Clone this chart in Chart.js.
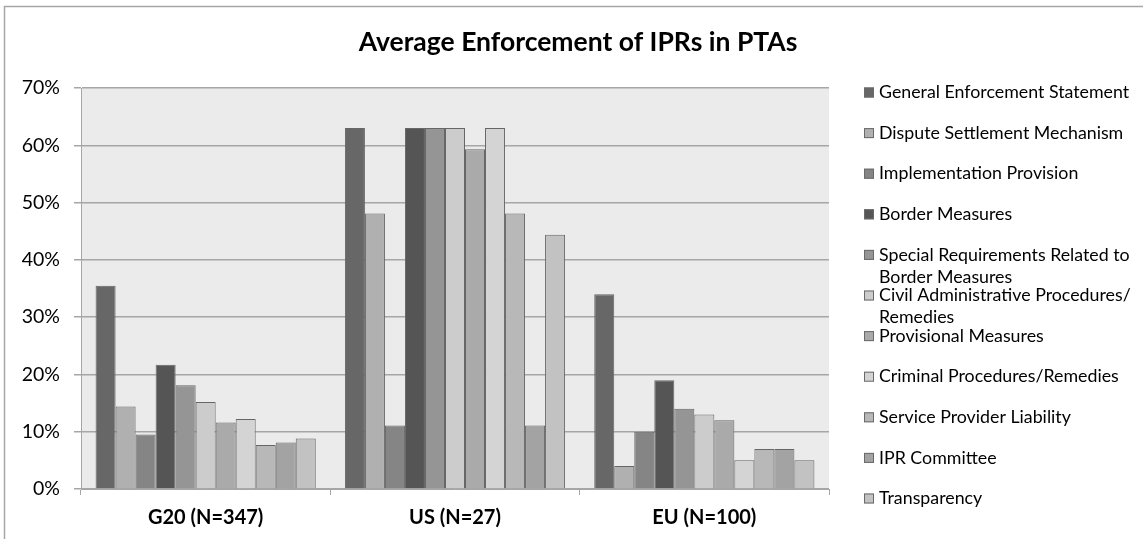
<!DOCTYPE html>
<html>
<head>
    <title>Average Enforcement of IPRs in PTAs</title>
    <script src="https://cdn.jsdelivr.net/npm/chart.js"></script>
    <style>
        html, body { margin: 0; padding: 0; background: #fff; }
        #wrap { width: 1143px; height: 539px; position: relative; }
    </style>
</head>
<body>
    <div id="wrap">
        <canvas id="iprChart" width="1143" height="539"></canvas>
    </div>

    <script>
        // groups on the x axis
        const groups = ["G20 (N=347)", "US (N=27)", "EU (N=100)"];

        // one series per enforcement provision (values in %)
        const seriesNames = [
            "General Enforcement Statement",
            "Dispute Settlement Mechanism",
            "Implementation Provision",
            "Border Measures",
            "Special Requirements Related to\nBorder Measures",
            "Civil Administrative Procedures/\nRemedies",
            "Provisional Measures",
            "Criminal Procedures/Remedies",
            "Service Provider Liability",
            "IPR Committee",
            "Transparency"
        ];
        const generalEnforcement = [35.5, 63.0, 34.0];
        const disputeSettlement  = [14.4, 48.1, 4.0];
        const implementation     = [9.5, 11.1, 10.0];
        const borderMeasures     = [21.7, 63.0, 19.0];
        const specialBorder      = [18.1, 63.0, 14.0];
        const civilAdmin         = [15.2, 63.0, 13.0];
        const provisional        = [11.6, 59.3, 12.0];
        const criminal           = [12.2, 63.0, 5.0];
        const serviceProvider    = [7.7, 48.1, 7.0];
        const iprCommittee       = [8.1, 11.1, 7.0];
        const transparency       = [8.8, 44.4, 5.0];

        const yTicks = [0, 10, 20, 30, 40, 50, 60, 70];

        const seriesValues = [generalEnforcement, disputeSettlement, implementation, borderMeasures,
            specialBorder, civilAdmin, provisional, criminal, serviceProvider, iprCommittee, transparency];
        const seriesColors = ["#676767", "#b0b0b0", "#858585", "#555555", "#959595", "#cccccc",
            "#aaaaaa", "#d4d4d4", "#b8b8b8", "#a3a3a3", "#c2c2c2"];

        const datasets = seriesNames.map((name, i) => ({
            label: name,
            data: seriesValues[i],
            backgroundColor: seriesColors[i],
            borderColor: "#666666",
            borderWidth: 1
        }));

        // grey plot background + outer frame + title
        const backdrop = {
            id: "backdrop",
            beforeDraw(chart) {
                const { ctx, chartArea: a } = chart;
                ctx.save();
                ctx.fillStyle = "#ebebeb";
                ctx.fillRect(a.left, a.top, a.right - a.left, a.bottom - a.top);
                ctx.strokeStyle = "#a6a6a6";
                ctx.lineWidth = 1.5;
                ctx.strokeRect(4.5, 6.5, 1200, 600);
                ctx.fillStyle = "#000";
                ctx.font = "bold 26.5px Lato";
                ctx.textAlign = "center";
                ctx.textBaseline = "middle";
                ctx.fillText("Average Enforcement of IPRs in PTAs", 578, 42);
                ctx.restore();
            }
        };

        // legend on the right, built from the datasets
        const sideLegend = {
            id: "sideLegend",
            afterDraw(chart) {
                const { ctx } = chart;
                ctx.save();
                ctx.font = "17.8px Lato";
                ctx.textBaseline = "middle";
                ctx.textAlign = "left";
                chart.data.datasets.forEach((ds, i) => {
                    const y = 92.5 + 40.6 * i;
                    ctx.fillStyle = ds.backgroundColor;
                    ctx.fillRect(864, y - 5, 10, 10);
                    ctx.strokeStyle = "#6a6a6a";
                    ctx.lineWidth = 1;
                    ctx.strokeRect(864.5, y - 4.5, 9, 9);
                    ctx.fillStyle = "#000";
                    ds.label.split("\n").forEach((line, j) => {
                        ctx.fillText(line, 879, y + j * 22);
                    });
                });
                ctx.restore();
            }
        };

        const ctx = document.getElementById("iprChart").getContext("2d");
        const myChart = new Chart(ctx, {
            type: "bar",
            data: {
                labels: groups,
                datasets: datasets
            },
            options: {
                responsive: false,
                animation: false,
                layout: {
                    padding: { left: 0, right: 314, top: 88, bottom: 0 }
                },
                datasets: {
                    bar: { categoryPercentage: 0.883, barPercentage: 1.0 }
                },
                plugins: {
                    legend: { display: false },
                    title: { display: false },
                    tooltip: { enabled: false }
                },
                scales: {
                    x: {
                        afterFit: s => { s.height = 50; },
                        grid: {
                            offset: true,
                            drawOnChartArea: false,
                            drawTicks: true,
                            tickLength: 6,
                            color: "#a6a6a6"
                        },
                        border: { color: "#a6a6a6", width: 1 },
                        ticks: {
                            color: "#000",
                            padding: 11,
                            font: { family: "Lato", size: 20, weight: "bold" }
                        }
                    },
                    y: {
                        min: 0,
                        max: 70,
                        afterFit: s => { s.width = 81; },
                        afterBuildTicks: s => { s.ticks = yTicks.map(v => ({ value: v })); },
                        grid: {
                            color: "#a6a6a6",
                            lineWidth: 1.5,
                            tickLength: 7
                        },
                        border: { color: "#a6a6a6", width: 1 },
                        ticks: {
                            color: "#000",
                            padding: 14,
                            callback: v => v + "%",
                            font: { family: "Lato", size: 19.5 }
                        }
                    }
                }
            },
            plugins: [backdrop, sideLegend]
        });
    </script>
</body>
</html>
